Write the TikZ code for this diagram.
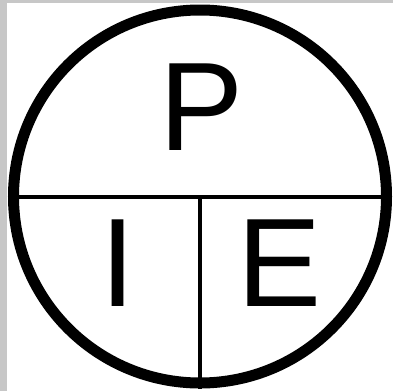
\documentclass[tikz,border=0pt]{standalone}
\usepackage{fontspec}
\setmainfont{Liberation Sans}

\begin{document}
\begin{tikzpicture}[x=1pt, y=-1pt,
  ring/.style={circle, draw, line width=11pt, minimum size=373pt, inner sep=0pt},
  letter/.style={inner sep=0pt, anchor=base, font=\fontsize{126}{126}\selectfont},
  divider/.style={line width=4pt}]
\useasboundingbox (0,0) rectangle (393,391);
\fill[black!22] (0,0) rectangle (393,391);
\fill[white] (7,3) rectangle (393,391);
\node[ring] (ring) at (200,196.5) {};
\draw[divider] (ring.west) -- (ring.east);
\draw[divider] (ring.center) -- (ring.south);
\node[letter] (letterP) at (202,150) {P};
\node[letter] (letterI) at (118,306) {I};
\node[letter] (letterE) at (280,306) {E};
\end{tikzpicture}
\end{document}
